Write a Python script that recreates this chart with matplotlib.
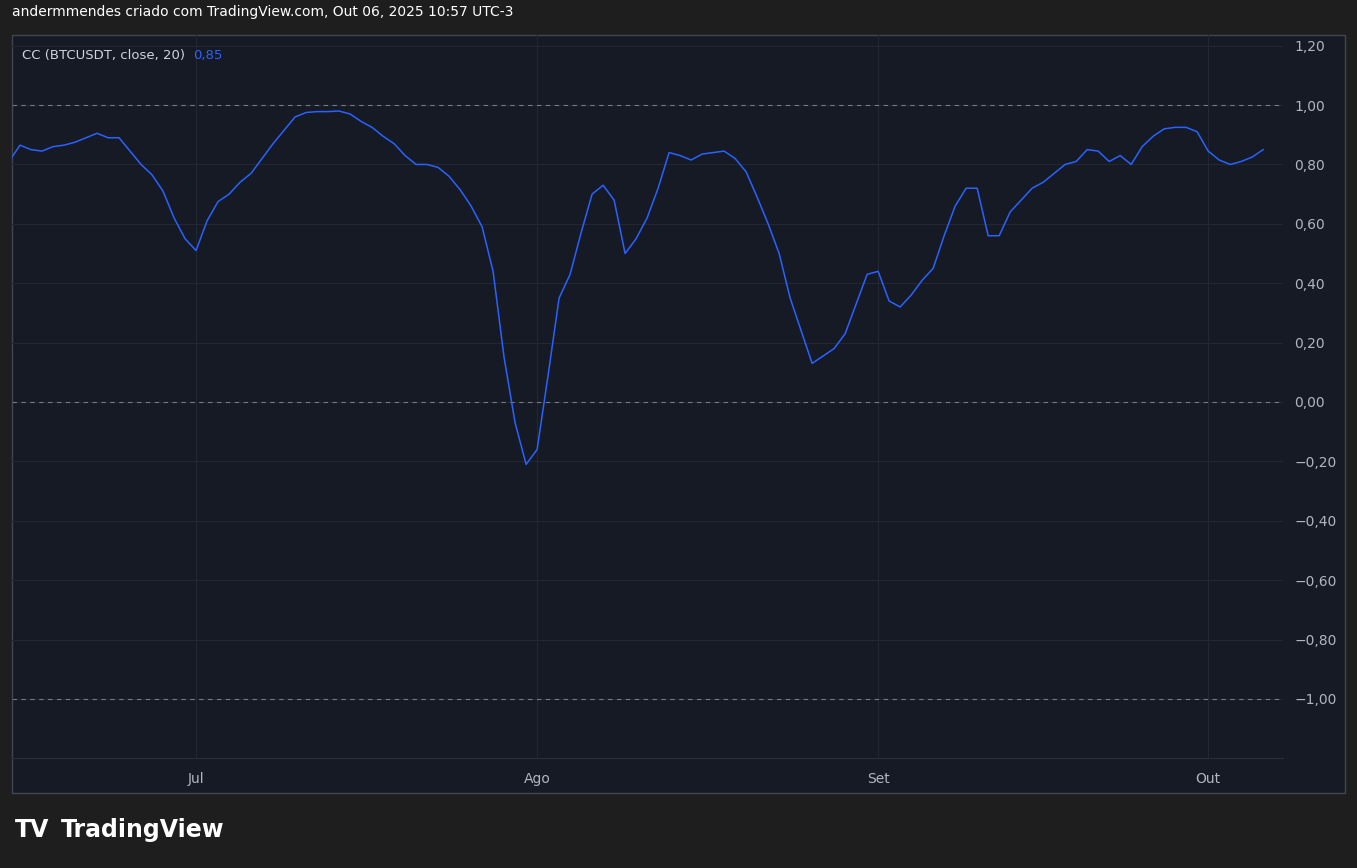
import matplotlib.pyplot as plt
from matplotlib.patches import Rectangle

# daily correlation values, starting Jun 14 2025 (index 17 = Jul 1)
cc_values = [0.81, 0.865, 0.85, 0.845, 0.86, 0.865, 0.875, 0.89, 0.905, 0.89,
             0.89, 0.845, 0.80, 0.765, 0.71, 0.62, 0.55, 0.51, 0.61, 0.675,
             0.70, 0.74, 0.77, 0.82, 0.87, 0.915, 0.96, 0.975, 0.978, 0.978,
             0.98, 0.97, 0.945, 0.925, 0.895, 0.87, 0.83, 0.80, 0.80, 0.79,
             0.76, 0.715, 0.66, 0.59, 0.44, 0.15, -0.07, -0.21, -0.16, 0.09,
             0.35, 0.43, 0.57, 0.70, 0.73, 0.68, 0.50, 0.55, 0.62, 0.72,
             0.84, 0.83, 0.815, 0.835, 0.84, 0.845, 0.82, 0.775, 0.69, 0.60,
             0.50, 0.35, 0.24, 0.13, 0.155, 0.18, 0.23, 0.33, 0.43, 0.44,
             0.34, 0.32, 0.36, 0.41, 0.45, 0.56, 0.66, 0.72, 0.72, 0.56,
             0.56, 0.64, 0.68, 0.72, 0.74, 0.77, 0.80, 0.81, 0.85, 0.845,
             0.81, 0.83, 0.80, 0.86, 0.895, 0.92, 0.925, 0.925, 0.91, 0.845,
             0.815, 0.80, 0.81, 0.825, 0.85]
month_pos = [17, 48, 79, 109]
month_labels = ["Jul", "Ago", "Set", "Out"]
y_ticks = [1.2, 1.0, 0.8, 0.6, 0.4, 0.2, 0.0, -0.2, -0.4, -0.6, -0.8, -1.0]

W, H = 1357, 868
fig = plt.figure(figsize=(W / 100, H / 100), dpi=100)
fig.patch.set_facecolor("#1e1e1e")
fig.text(12 / W, 1 - 12 / H, "andermmendes criado com TradingView.com, Out 06, 2025 10:57 UTC-3",
         color="white", fontsize=10, va="center")
# chart panel
fig.patches.append(Rectangle((12 / W, 1 - 793 / H), (1345 - 12) / W, (793 - 35) / H,
                             transform=fig.transFigure, facecolor="#161a25",
                             edgecolor="#43464f", lw=1, zorder=-5))

ax = fig.add_axes([12 / W, 1 - 758 / H, (1283 - 12) / W, (758 - 35) / H])
ax.set_zorder(2)
ax.set_facecolor("none")
x = list(range(len(cc_values)))
ax.plot(x, cc_values, color="#2962ff", lw=1.1, zorder=3)
for lvl in (1.0, 0.0, -1.0):
    ax.axhline(lvl, color="#787b86", lw=0.8, ls=(0, (4, 4)))
ax.set_xlim(0.27, 115.8)
ax.set_ylim(-1.199, 1.236)
ax.set_yticks(y_ticks)
ax.set_yticklabels([f"{v:.2f}".replace(".", ",").replace("-", "\u2212") for v in y_ticks])
ax.set_xticks(month_pos)
ax.set_xticklabels(month_labels)
ax.yaxis.tick_right()
ax.tick_params(colors="#b2b5be", labelsize=10, length=0, pad=8)
ax.tick_params(axis="x", pad=10)
ax.grid(True, color="#232733", lw=0.8)
for s in ax.spines.values():
    s.set_visible(False)
ax.spines["bottom"].set_visible(True)
ax.spines["bottom"].set_color("#2a2e39")

fig.text(22 / W, 1 - 55 / H, "CC (BTCUSDT, close, 20)", color="#d1d4dc", fontsize=9.5, va="center")
fig.text(193 / W, 1 - 55 / H, "0,85", color="#2962ff", fontsize=9.5, va="center")

fig.text(15 / W, 1 - 830 / H, "TV", color="white", fontsize=17, fontweight="bold", va="center")
fig.text(61 / W, 1 - 830 / H, "TradingView", color="white", fontsize=17, fontweight="bold", va="center")

fig.savefig("out.png", dpi=100, facecolor=fig.get_facecolor())
